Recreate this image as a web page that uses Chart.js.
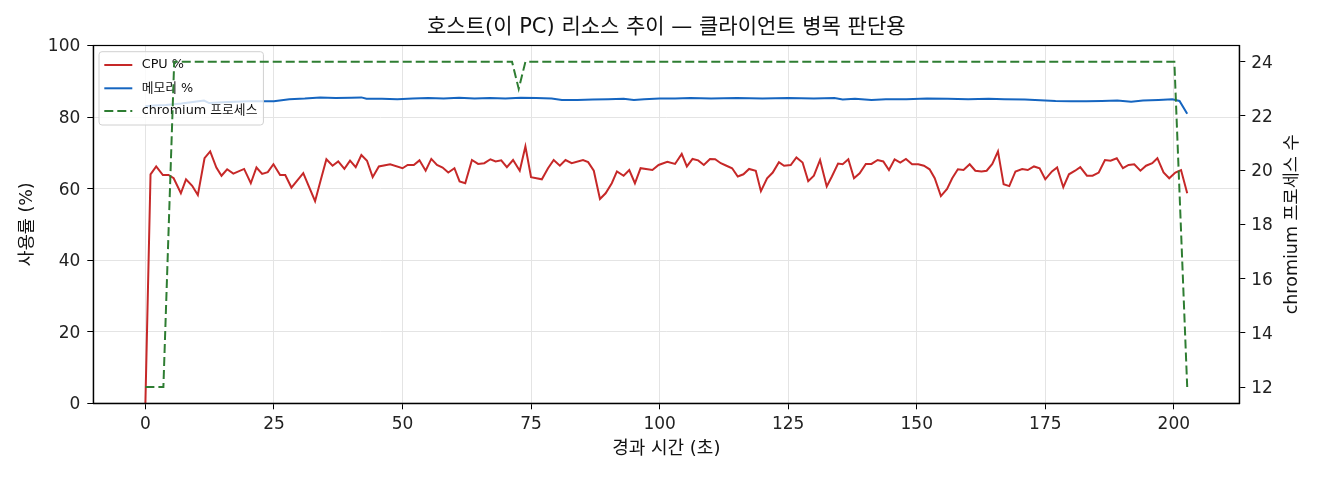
<!DOCTYPE html>
<html>
<head>
<meta charset="utf-8">
<script src="https://cdn.jsdelivr.net/npm/chart.js@4.4.1/dist/chart.umd.min.js"></script>
<style>
  html, body { margin: 0; padding: 0; background: #fff; }
  canvas { display: block; }
</style>
</head>
<body>
<canvas id="chart" width="1320" height="480"></canvas>
<script>
// ===== Data =====
const chartTitle = "호스트(이 PC) 리소스 추이 — 클라이언트 병목 판단용";
const xTitle = "경과 시간 (초)";
const yTitle = "사용률 (%)";
const y1Title = "chromium 프로세스 수";
const seriesNames = ["CPU %", "메모리 %", "chromium 프로세스"];

const xTicks = [0, 25, 50, 75, 100, 125, 150, 175, 200];
const yTicks = [0, 20, 40, 60, 80, 100];
const y1Ticks = [12, 14, 16, 18, 20, 22, 24];

const cpuTime = [0, 1.0, 2.1, 3.4, 4.5, 5.5, 6.9, 7.9, 9.1, 10.2, 11.5, 12.6, 13.8, 14.8, 15.9, 17.1, 19.2, 20.5, 21.6, 22.7,
  23.8, 24.9, 26.2, 27.2, 28.4, 30.7, 33.0, 34.1, 35.2, 36.4, 37.5, 38.7, 39.8, 40.9, 42.0, 43.1, 44.2, 45.4, 47.6, 50.0,
  51.0, 52.2, 53.3, 54.5, 55.6, 56.7, 57.8, 58.9, 60.1, 61.1, 62.2, 63.5, 64.7, 65.9, 67.1, 68.1, 69.2, 70.3, 71.5, 72.8,
  73.9, 75.0, 77.1, 78.3, 79.4, 80.6, 81.7, 82.9, 85.1, 86.1, 87.2, 88.4, 89.5, 90.7, 91.7, 93.0, 94.1, 95.2, 96.3, 98.6,
  99.8, 101.5, 103.0, 104.3, 105.3, 106.4, 107.5, 108.6, 109.8, 110.8, 111.9, 113.0, 114.1, 115.2, 116.3, 117.4, 118.7, 119.7, 120.9, 122.0,
  123.2, 124.2, 125.5, 126.6, 127.8, 128.9, 130.0, 131.2, 132.5, 133.5, 134.7, 135.6, 136.7, 137.8, 138.9, 140.1, 141.2, 142.4, 143.5, 144.6,
  145.7, 146.8, 147.9, 149.1, 150.3, 151.4, 152.5, 153.5, 154.7, 155.9, 156.9, 158.0, 159.1, 160.3, 161.4, 162.6, 163.6, 164.7, 165.8, 166.9,
  168.0, 169.2, 170.5, 171.6, 172.8, 173.9, 175.0, 176.3, 177.3, 178.5, 179.6, 180.8, 181.8, 183.1, 184.2, 185.4, 186.6, 187.7, 188.9, 190.1,
  191.2, 192.3, 193.5, 194.6, 195.8, 196.8, 198.0, 199.1, 200.3, 201.4, 202.6];
const cpuPct = [0, 64.0, 66.2, 63.8, 63.8, 62.9, 58.7, 62.6, 60.8, 58.2, 68.5, 70.4, 65.9, 63.6, 65.4, 64.2, 65.5, 61.5, 65.9, 64.1,
  64.6, 66.8, 63.8, 63.8, 60.3, 64.3, 56.5, 62.4, 68.2, 66.4, 67.6, 65.5, 67.8, 66.0, 69.4, 67.8, 63.2, 66.2, 66.8, 65.7,
  66.6, 66.6, 67.9, 65.0, 68.3, 66.6, 65.9, 64.5, 65.7, 62.0, 61.5, 68.0, 66.9, 67.1, 68.2, 67.6, 67.9, 66.0, 68.0, 65.0,
  71.8, 63.2, 62.6, 65.7, 68.0, 66.4, 68.0, 67.1, 68.0, 67.4, 65.0, 57.1, 58.7, 61.5, 64.8, 63.6, 65.2, 61.5, 65.7, 65.2,
  66.6, 67.5, 66.9, 69.7, 66.2, 68.3, 67.9, 66.6, 68.3, 68.2, 67.1, 66.4, 65.7, 63.4, 64.0, 65.5, 65.0, 59.3, 62.9, 64.5,
  67.4, 66.4, 66.6, 68.7, 67.3, 62.1, 63.6, 68.0, 60.6, 63.4, 67.0, 66.8, 68.2, 62.9, 64.3, 66.9, 66.9, 68.0, 67.6, 65.2,
  68.2, 67.3, 68.3, 66.8, 66.8, 66.4, 65.4, 62.9, 57.9, 59.9, 62.9, 65.4, 65.2, 66.8, 65.0, 64.8, 65.0, 66.9, 70.4, 61.2,
  60.7, 64.8, 65.5, 65.2, 66.2, 65.7, 62.6, 64.8, 65.9, 60.4, 64.0, 65.0, 66.0, 63.6, 63.6, 64.5, 68.0, 67.8, 68.5, 65.7,
  66.6, 66.8, 65.0, 66.4, 67.1, 68.5, 64.5, 62.9, 64.5, 65.2, 58.7];

const memTime = [0, 1.5, 4, 7, 11.4, 12.4, 16, 20, 25, 28, 31, 34, 37, 40, 42, 43, 46, 49, 52, 55,
  58, 61, 64, 67, 70, 73, 76, 79, 81, 84, 87, 90, 93, 95, 97, 100, 103, 106, 110, 115,
  120, 125, 130, 134, 135.6, 138, 141.2, 144, 148, 152, 156, 160, 164, 167, 171, 174, 177, 180, 183, 186,
  189, 191.7, 194, 197, 199.7, 201.1, 202.6];
const memPct = [83.0, 83.2, 83.4, 83.8, 84.6, 83.9, 84.2, 84.4, 84.4, 85.0, 85.2, 85.5, 85.3, 85.4, 85.5, 85.1, 85.1, 85.0, 85.2, 85.3,
  85.2, 85.4, 85.2, 85.3, 85.2, 85.4, 85.3, 85.2, 84.8, 84.8, 84.9, 85.0, 85.1, 84.8, 85.0, 85.2, 85.2, 85.3, 85.2, 85.3,
  85.2, 85.3, 85.2, 85.3, 84.9, 85.1, 84.8, 85.0, 85.0, 85.2, 85.1, 85.0, 85.1, 85.0, 84.9, 84.7, 84.5, 84.4, 84.4, 84.5,
  84.6, 84.3, 84.6, 84.8, 85.0, 84.5, 80.9];

const procTime = [0, 3.5, 5.6, 71.3, 72.6, 73.9, 200.1, 202.6];
const procCount = [12, 12, 24, 24, 23, 24, 24, 12];

const colors = ["#c62828", "#1565c0", "#2e7d32"];
const FONT = "'DejaVu Sans', 'Noto Sans CJK KR', sans-serif";

function toPoints(xs, ys) {
  return xs.map((x, i) => ({ x: x, y: ys[i] }));
}

// ========== Extra drawing: title, right axis label, legend, frame ==========
const decorPlugin = {
  id: "decor",
  afterDatasetDraw(chart, args) {
    // legend sits on the left axes: above red/blue, below the green twin-axis line
    if (args.index !== 1) return;
    const ctx = chart.ctx;
    ctx.save();
    ctx.font = "12.8px " + FONT;
    const textX = 141.7;
    let maxW = 0;
    seriesNames.forEach((n) => (maxW = Math.max(maxW, ctx.measureText(n).width)));
    const bx = 99, by = 51.7, bw = textX + maxW + 6 - bx, bh = 73.3;
    ctx.beginPath();
    ctx.roundRect(bx, by, bw, bh, 3);
    ctx.fillStyle = "rgba(255,255,255,0.8)";
    ctx.fill();
    ctx.strokeStyle = "#d0d0d0";
    ctx.lineWidth = 1;
    ctx.stroke();
    const rows = [65, 88.3, 111];
    rows.forEach((ry, i) => {
      ctx.beginPath();
      ctx.setLineDash(i === 2 ? [9, 4] : []);
      ctx.strokeStyle = colors[i];
      ctx.lineWidth = 2;
      ctx.moveTo(104.3, ry);
      ctx.lineTo(132.3, ry);
      ctx.stroke();
      ctx.setLineDash([]);
      ctx.fillStyle = "#111";
      ctx.textBaseline = "middle";
      ctx.textAlign = "left";
      ctx.fillText(seriesNames[i], textX, ry);
    });
    ctx.restore();
  },
  afterDraw(chart) {
    const ctx = chart.ctx;
    const a = chart.chartArea;
    ctx.save();
    // frame (all four spines)
    ctx.strokeStyle = "#000";
    ctx.lineWidth = 1.2;
    ctx.strokeRect(a.left, a.top, a.right - a.left, a.bottom - a.top);
    // title
    ctx.fillStyle = "#111";
    ctx.font = "21px " + FONT;
    ctx.textAlign = "center";
    ctx.textBaseline = "middle";
    ctx.fillText(chartTitle, (a.left + a.right) / 2, 28);
    // right axis label, reads bottom to top
    ctx.font = "17.5px " + FONT;
    ctx.translate(1292, (a.top + a.bottom) / 2);
    ctx.rotate(-Math.PI / 2);
    ctx.fillText(y1Title, 0, 0);
    ctx.restore();
  },
};

function fixedTicks(list) {
  return (scale) => {
    scale.ticks = list.map((v) => ({ value: v }));
  };
}

function drawChart() {
  const ctx = document.getElementById("chart").getContext("2d");
  new Chart(ctx, {
    type: "line",
    data: {
      datasets: [
        {
          label: seriesNames[0],
          data: toPoints(cpuTime, cpuPct),
          borderColor: colors[0],
          borderWidth: 2,
          pointRadius: 0,
          yAxisID: "y",
          order: 2,
        },
        {
          label: seriesNames[1],
          data: toPoints(memTime, memPct),
          borderColor: colors[1],
          borderWidth: 2,
          pointRadius: 0,
          yAxisID: "y",
          order: 1,
        },
        {
          label: seriesNames[2],
          data: toPoints(procTime, procCount),
          borderColor: colors[2],
          borderWidth: 2,
          borderDash: [9, 4],
          pointRadius: 0,
          yAxisID: "y1",
          order: 0,
        },
      ],
    },
    options: {
      responsive: false,
      animation: false,
      devicePixelRatio: 1,
      layout: { padding: { top: 45.5, left: 0, right: 0, bottom: 0 } },
      plugins: {
        legend: { display: false },
        title: { display: false },
        tooltip: { enabled: false },
      },
      scales: {
        x: {
          type: "linear",
          min: -10.13,
          max: 212.73,
          afterBuildTicks: fixedTicks(xTicks),
          afterFit: (s) => { s.height = 76.7; },
          grid: { color: "#e4e4e4", tickColor: "#000", tickLength: 6 },
          border: { color: "#000", width: 1.2 },
          ticks: { color: "#222", font: { size: 17, family: FONT }, padding: 5, maxRotation: 0 },
          title: {
            display: true,
            text: xTitle,
            color: "#111",
            font: { size: 18, family: FONT },
            padding: { top: 0, bottom: 19.5 },
          },
        },
        y: {
          position: "left",
          min: 0,
          max: 100,
          afterBuildTicks: fixedTicks(yTicks),
          afterFit: (s) => { s.width = 93.3; },
          grid: { color: "#e4e4e4", tickColor: "#000", tickLength: 6 },
          border: { color: "#000", width: 1.2 },
          ticks: { color: "#222", font: { size: 17, family: FONT }, padding: 7, labelOffset: 1.5 },
          title: {
            display: true,
            text: yTitle,
            color: "#111",
            font: { size: 17.5, family: FONT },
            padding: { top: 17, bottom: 0 },
          },
        },
        y1: {
          position: "right",
          min: 11.4,
          max: 24.6,
          afterBuildTicks: fixedTicks(y1Ticks),
          afterFit: (s) => { s.width = 80.7; },
          grid: { drawOnChartArea: false, tickColor: "#000", tickLength: 6 },
          border: { color: "#000", width: 1.2 },
          ticks: { color: "#222", font: { size: 17, family: FONT }, padding: 6, labelOffset: 1.5 },
        },
      },
    },
    plugins: [decorPlugin],
  });
}

// system fonts only, wait for them so the canvas text uses them
Promise.all([
  document.fonts.load("17px 'DejaVu Sans'"),
  document.fonts.load("17px 'Noto Sans CJK KR'", "가"),
])
  .catch(() => {})
  .then(drawChart);
</script>
</body>
</html>
